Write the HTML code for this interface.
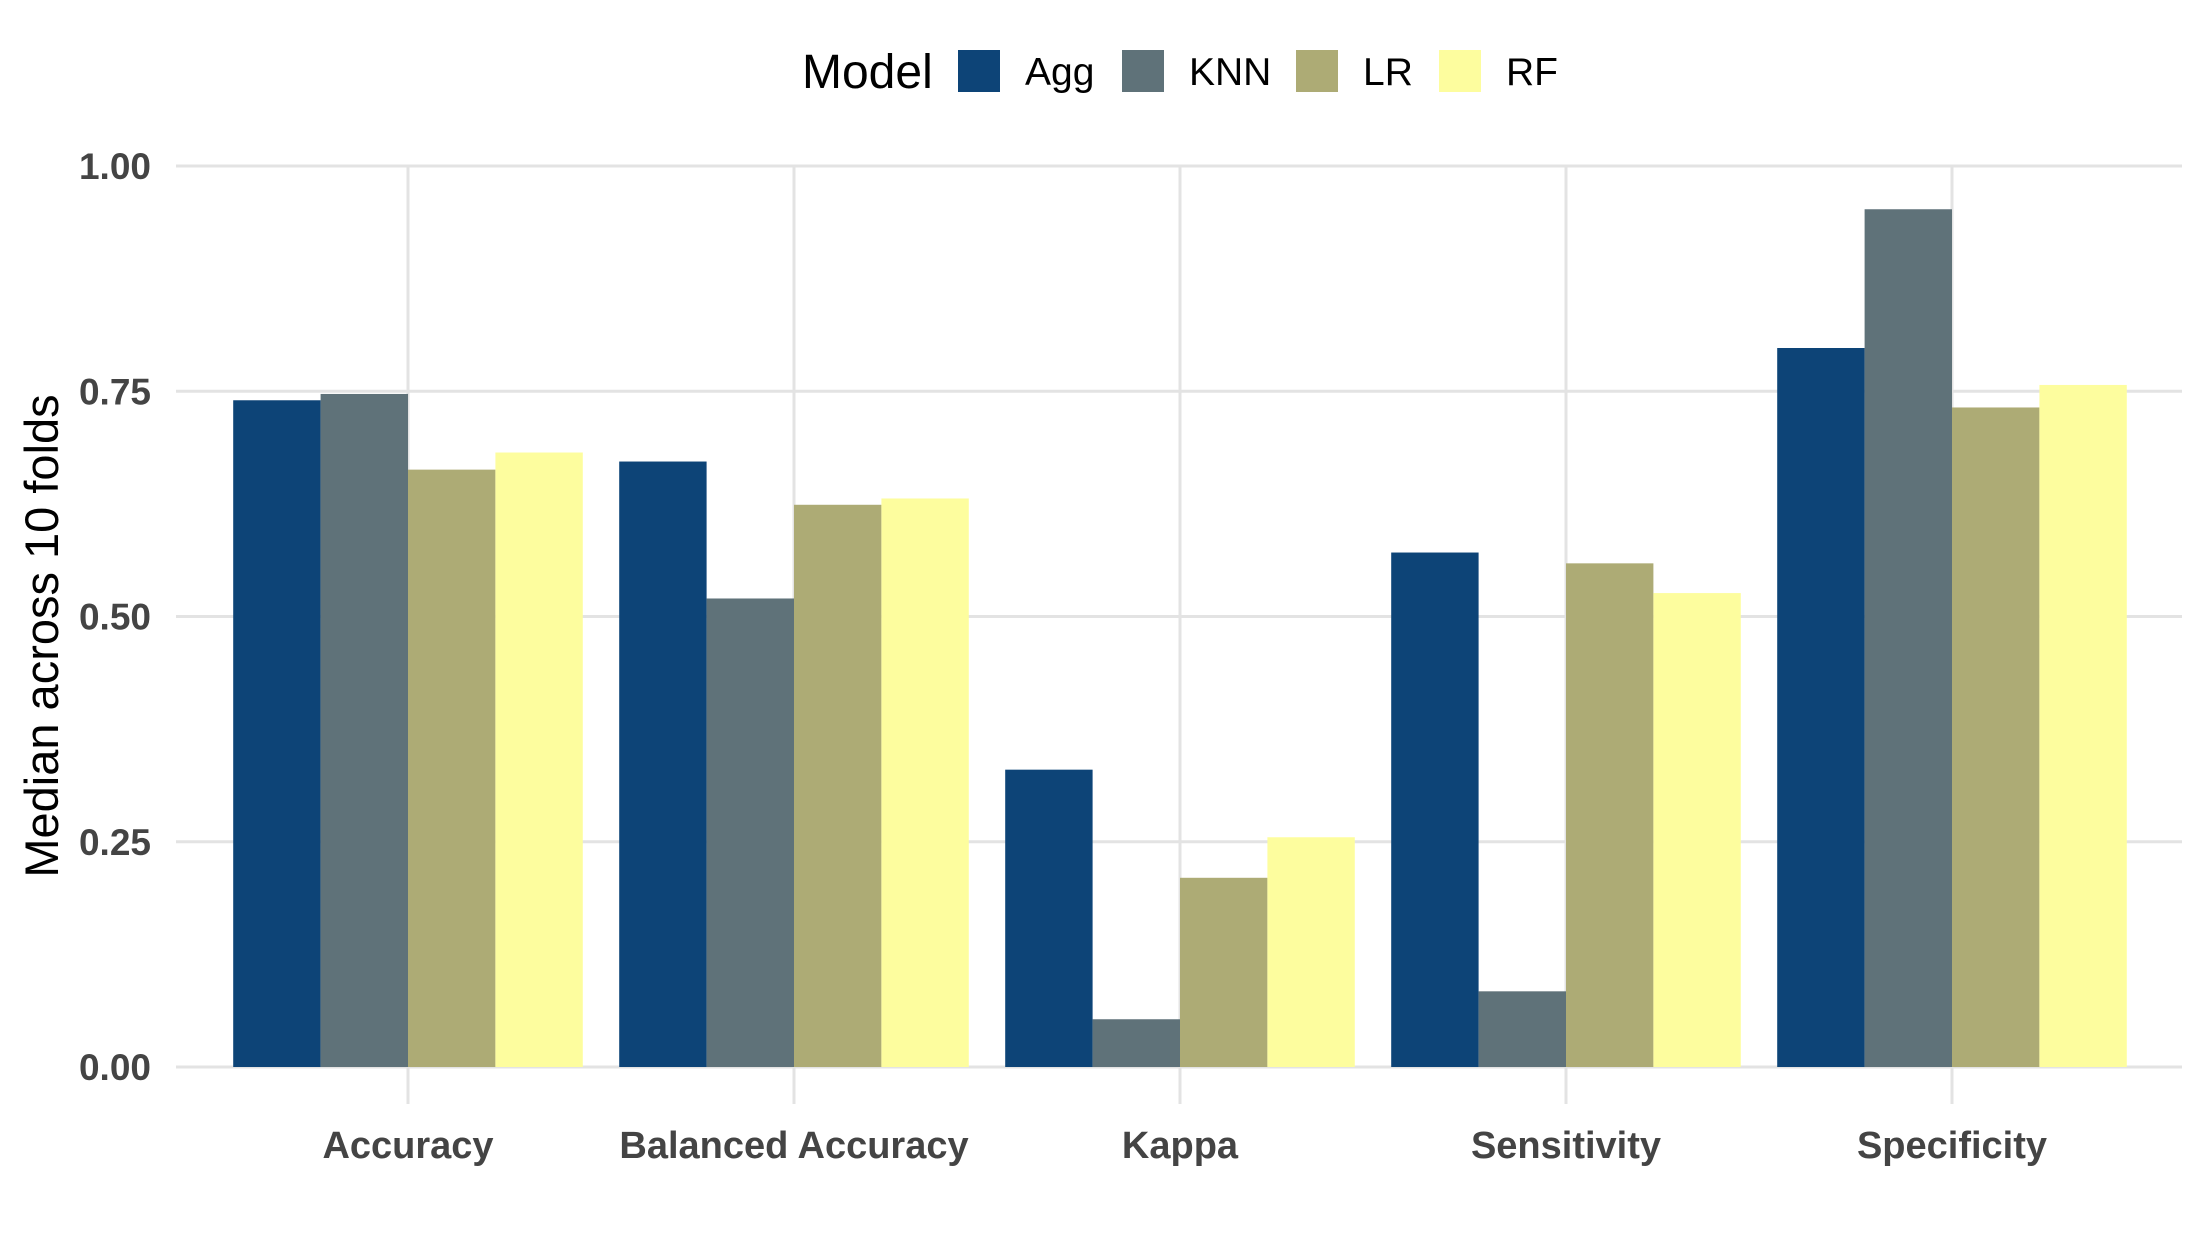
<!DOCTYPE html>
<html><head><meta charset="utf-8"><style>
html,body{margin:0;padding:0;background:#fff;}
svg{display:block;font-family:"Liberation Sans",Arial,sans-serif;}
</style></head><body>
<svg id="chart" width="2208" height="1248" viewBox="0 0 2208 1248">
<g id="grid"></g>
<g id="bars"></g>
<g id="yticks"></g>
<g id="xticks"></g>
<text x="58" y="636" transform="rotate(-90 58 636)" text-anchor="middle" font-size="47" fill="#000">Median across 10 folds</text>
<g id="legend"></g>
</svg>
<script>
const categories = ["Accuracy","Balanced Accuracy","Kappa","Sensitivity","Specificity"];
const models = ["Agg","KNN","LR","RF"];
const aggValues = [0.740,0.672,0.330,0.571,0.798];
const knnValues = [0.747,0.520,0.053,0.084,0.952];
const lrValues = [0.663,0.624,0.210,0.559,0.732];
const rfValues = [0.682,0.631,0.255,0.526,0.757];
const yTicks = [0,0.25,0.5,0.75,1.0];
const yTickLabels = ["0.00","0.25","0.50","0.75","1.00"];

const series=[aggValues,knnValues,lrValues,rfValues];
const colors=["#0d4477","#5f7279","#adab75","#fdfd9e"];
const NS="http://www.w3.org/2000/svg";
const plotL=176,plotR=2182,y0=1067,y1=166;
const xc0=408,step=386,barW=87.4;
const yScale=v=>y0-(y0-y1)*v;
const xScale=i=>xc0+step*i;
function mk(tag,attrs,parent){const e=document.createElementNS(NS,tag);for(const k in attrs)e.setAttribute(k,attrs[k]);parent.appendChild(e);return e;}
const grid=document.getElementById('grid'),bars=document.getElementById('bars'),yt=document.getElementById('yticks'),xt=document.getElementById('xticks'),lg=document.getElementById('legend');
yTicks.forEach((t,i)=>{
  const l=mk('line',{x1:plotL,x2:plotR,y1:yScale(t),y2:yScale(t),stroke:'#e3e3e3','stroke-width':3},grid);
  
  
  const tx=mk('text',{x:151,y:yScale(t)+13,'text-anchor':'end','font-size':37,'font-weight':'bold',fill:'#444'},yt);
  tx.textContent=yTickLabels[i];
  
  
});
categories.forEach((c,i)=>{
  const l=mk('line',{x1:xScale(i),x2:xScale(i),y1:y1-1,y2:1104,stroke:'#e3e3e3','stroke-width':3},grid);
  
  
  const tx=mk('text',{x:xScale(i),y:1158,'text-anchor':'middle','font-size':38,'font-weight':'bold',fill:'#444'},xt);
  tx.textContent=c;
  
  
  series.forEach((s,j)=>{
    const x=xScale(i)-2*barW+j*barW;
    const r=mk('rect',{x:x,y:yScale(s[i]),width:barW,height:y0-yScale(s[i]),fill:colors[j]},bars);
    
    
  });
});
const t=mk('text',{x:802,y:88,'font-size':48,fill:'#000'},lg);
t.textContent='Model';


const keyX=[958,1122,1296,1439];
models.forEach((m,j)=>{
  const r=mk('rect',{x:keyX[j],y:50,width:42,height:42,fill:colors[j]},lg);
  
  
  const tx=mk('text',{x:keyX[j]+67,y:85,'font-size':39,fill:'#000'},lg);
  tx.textContent=m;
  
  
});
</script>
</body></html>
